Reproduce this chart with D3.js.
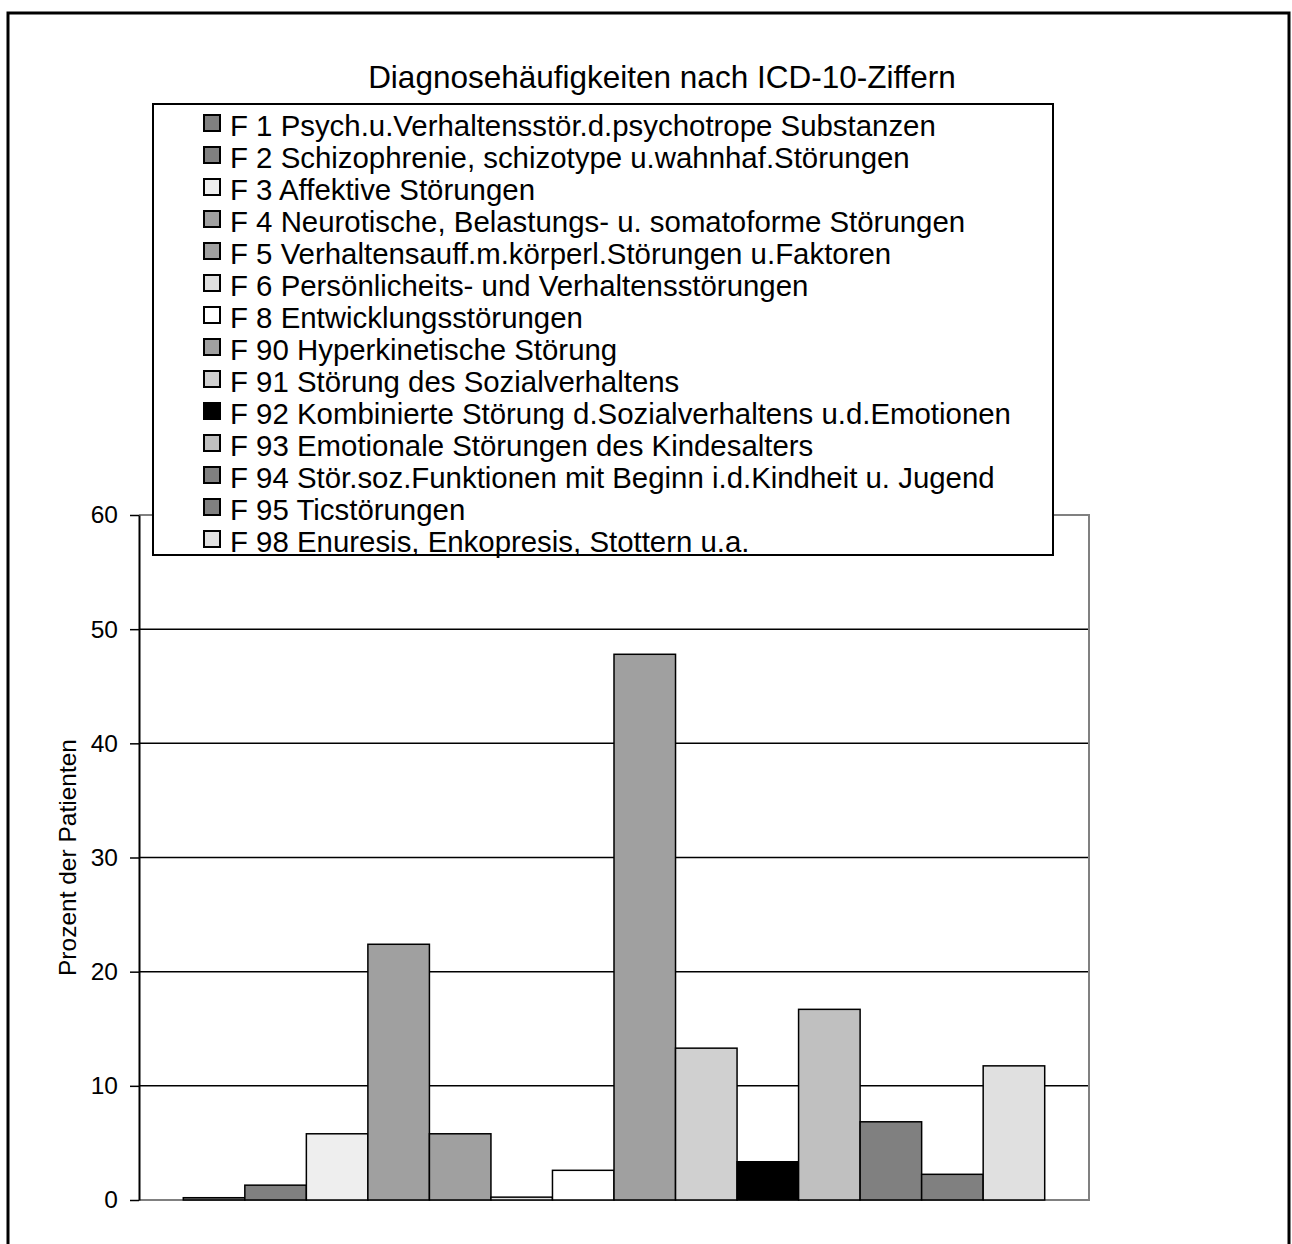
<!DOCTYPE html>
<html><head><meta charset="utf-8">
<script src="https://cdn.jsdelivr.net/npm/d3@7"></script>
<style>body{margin:0;background:#fff}svg{display:block;font-family:"Liberation Sans",Arial,sans-serif}</style>
</head><body>
<script>
const codes = ["F1","F2","F3","F4","F5","F6","F8","F90","F91","F92","F93","F94","F95","F98"];
const labels = [
 "F 1 Psych.u.Verhaltensstör.d.psychotrope Substanzen",
 "F 2 Schizophrenie, schizotype u.wahnhaf.Störungen",
 "F 3 Affektive Störungen",
 "F 4 Neurotische, Belastungs- u. somatoforme Störungen",
 "F 5 Verhaltensauff.m.körperl.Störungen u.Faktoren",
 "F 6 Persönlicheits- und Verhaltensstörungen",
 "F 8 Entwicklungsstörungen",
 "F 90 Hyperkinetische Störung",
 "F 91 Störung des Sozialverhaltens",
 "F 92 Kombinierte Störung d.Sozialverhaltens u.d.Emotionen",
 "F 93 Emotionale Störungen des Kindesalters",
 "F 94 Stör.soz.Funktionen mit Beginn i.d.Kindheit u. Jugend",
 "F 95 Ticstörungen",
 "F 98 Enuresis, Enkopresis, Stottern u.a."
];
const values = [0.2, 1.3, 5.8, 22.4, 5.8, 0.25, 2.6, 47.8, 13.3, 3.35, 16.7, 6.85, 2.25, 11.75];
const colors = ["#808080","#808080","#eeeeee","#a0a0a0","#a0a0a0","#e0e0e0","#ffffff","#a0a0a0","#d0d0d0","#000000","#c0c0c0","#808080","#808080","#e0e0e0"];
const yTicks = [0,10,20,30,40,50,60];
const title = "Diagnosehäufigkeiten nach ICD-10-Ziffern";
const yLabel = "Prozent der Patienten";

const W = 1292, H = 1244;
const svg = d3.select("body").append("svg").attr("width", W).attr("height", H);

// outer frame
svg.append("rect").attr("x",8).attr("y",13).attr("width",1281).attr("height",1300)
  .attr("fill","none").attr("stroke","#000").attr("stroke-width",3);

const plot = {x0:139, x1:1089, y0:515, y1:1200};
const y = d3.scaleLinear().domain([0,60]).range([plot.y1, plot.y0]);
const x = d3.scaleBand().domain(codes).range([plot.x0, plot.x1]).paddingInner(0).paddingOuter(0.72);

// gridlines
svg.append("g").selectAll("line").data(yTicks.filter(t=>t>0 && t<60)).join("line")
  .attr("x1",plot.x0).attr("x2",plot.x1).attr("y1",d=>y(d)).attr("y2",d=>y(d))
  .attr("stroke","#000").attr("stroke-width",1.5);

// plot border (gray) top, right, bottom
svg.append("path")
  .attr("d",`M${plot.x0},${plot.y0}H${plot.x1}V${plot.y1}H${plot.x0}`)
  .attr("fill","none").attr("stroke","#808080").attr("stroke-width",2);

// bars
svg.append("g").selectAll("rect").data(codes).join("rect")
  .attr("x",d=>x(d)).attr("width",x.bandwidth())
  .attr("y",(d,i)=>y(values[i])).attr("height",(d,i)=>y(0)-y(values[i]))
  .attr("fill",(d,i)=>colors[i]).attr("stroke","#000").attr("stroke-width",1.5);

// y axis
const yAxis = d3.axisLeft(y).tickValues(yTicks).tickSize(9).tickPadding(12).tickSizeOuter(0);
const ga = svg.append("g").attr("transform",`translate(${plot.x0},0)`).call(yAxis);
ga.select(".domain").attr("stroke","#000").attr("stroke-width",2);
ga.selectAll(".tick line").attr("stroke","#000").attr("stroke-width",1.5);
ga.selectAll(".tick text").attr("font-size",24.5).attr("font-family","Liberation Sans, Arial, sans-serif").attr("fill","#000");

// y label
svg.append("text").attr("transform",`translate(76,${(plot.y0+plot.y1)/2}) rotate(-90)`)
  .attr("text-anchor","middle").attr("font-size",24.5).text(yLabel);

// title
svg.append("text").attr("x",662).attr("y",88).attr("text-anchor","middle")
  .attr("font-size",31.5).text(title);

// legend
const lg = svg.append("g");
lg.append("rect").attr("x",153).attr("y",104).attr("width",900).attr("height",451)
  .attr("fill","#fff").attr("stroke","#000").attr("stroke-width",2);
const rowY = d3.scalePoint().domain(codes).range([136, 552]);
const items = lg.selectAll("g.item").data(codes).join("g").attr("class","item")
  .attr("transform",d=>`translate(0,${rowY(d)})`);
items.append("rect").attr("x",204).attr("y",-21).attr("width",16).attr("height",16)
  .attr("fill",(d,i)=>colors[i]).attr("stroke","#000").attr("stroke-width",2);
items.append("text").attr("x",230).attr("y",0).attr("font-size",29.4).text((d,i)=>labels[i]);
</script>
</body></html>
